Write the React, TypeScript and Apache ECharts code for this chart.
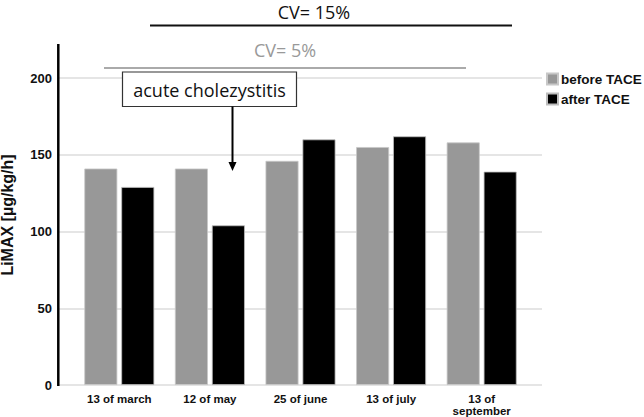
import React, { useEffect, useRef } from "react";
import * as echarts from "echarts";

const categories = ["13 of march", "12 of may", "25 of june", "13 of july", "13 of\nseptember"];
const beforeTACE = [141, 141, 146, 155, 158];
const afterTACE = [129, 104, 160, 162, 139];
const seriesNames = ["before TACE", "after TACE"];
const yTicks = { min: 0, max: 200, interval: 50 };
const yAxisTitle = "LiMAX [µg/kg/h]";
const annotations = { cv15: "CV= 15%", cv5: "CV= 5%", event: "acute cholezystitis" };

const BOLD = "'Liberation Sans', Arial, sans-serif";
const LIGHT = "'Open Sans', 'Noto Sans', sans-serif";

export default function App() {
  const ref = useRef<HTMLDivElement>(null);
  useEffect(() => {
    document.body.style.margin = "0";
    if (!ref.current) return;
    const chart = echarts.init(ref.current, undefined, { renderer: "svg" });
    const barBase = {
      type: "bar" as const,
      xAxisIndex: 1,
      yAxisIndex: 1,
      barWidth: 33,
      barGap: "12%",
    };
    chart.setOption({
      animation: false,
      backgroundColor: "#ffffff",
      grid: [
        { left: 58, right: 102, top: 78, bottom: 32 },
        { left: 74, right: 117, top: 78, bottom: 32 },
      ],
      xAxis: [
        { type: "value", gridIndex: 0, show: false, min: 0, max: 1 },
        {
          type: "category",
          gridIndex: 1,
          data: categories,
          boundaryGap: true,
          axisLine: { show: false },
          axisTick: { show: false },
          axisLabel: {
            color: "#111",
            fontFamily: BOLD,
            fontWeight: "bold",
            fontSize: 11.5,
            lineHeight: 12,
            margin: 8,
            interval: 0,
          },
        },
      ],
      yAxis: [
        {
          type: "value",
          gridIndex: 0,
          min: yTicks.min,
          max: yTicks.max,
          interval: yTicks.interval,
          axisLine: { show: false },
          axisTick: { show: false },
          axisLabel: {
            color: "#111",
            fontFamily: BOLD,
            fontWeight: "bold",
            fontSize: 13,
            margin: 6,
          },
          splitLine: { show: true, lineStyle: { color: "#dcdcdc", width: 1.5 } },
        },
        {
          type: "value",
          gridIndex: 1,
          min: yTicks.min,
          max: yTicks.max,
          show: false,
          splitLine: { show: false },
        },
      ],
      legend: {
        orient: "vertical",
        left: 546,
        top: 72,
        icon: "rect",
        itemWidth: 11,
        itemHeight: 11,
        itemGap: 6,
        padding: 0,
        data: seriesNames,
        textStyle: {
          color: "#111",
          fontFamily: BOLD,
          fontWeight: "bold",
          fontSize: 13.5,
          padding: [0, 0, 0, -2],
        },
      },
      series: [
        {
          ...barBase,
          name: seriesNames[0],
          data: beforeTACE,
          itemStyle: { color: "#989898", borderColor: "#c8c8c8", borderWidth: 0.8 },
        },
        {
          ...barBase,
          name: seriesNames[1],
          data: afterTACE,
          itemStyle: { color: "#000000", borderColor: "#bdbdbd", borderWidth: 0.8 },
        },
      ],
      graphic: [
        {
          type: "line",
          z: 100,
          shape: { x1: 58.3, y1: 44, x2: 58.3, y2: 386 },
          style: { stroke: "#000", lineWidth: 2.5 },
        },
        {
          type: "text",
          z: 100,
          x: 7,
          y: 215,
          rotation: Math.PI / 2,
          style: {
            text: yAxisTitle,
            fontFamily: BOLD,
            fontWeight: "bold",
            fontSize: 16,
            fill: "#111",
            align: "center",
            verticalAlign: "middle",
          },
        },
        {
          type: "text",
          z: 100,
          x: 314,
          y: 12,
          style: {
            text: annotations.cv15,
            fontFamily: LIGHT,
            fontSize: 18,
            fill: "#111",
            align: "center",
            verticalAlign: "middle",
          },
        },
        {
          type: "line",
          z: 100,
          shape: { x1: 150, y1: 25.5, x2: 512, y2: 25.5 },
          style: { stroke: "#111", lineWidth: 2 },
        },
        {
          type: "text",
          z: 100,
          x: 285,
          y: 50,
          style: {
            text: annotations.cv5,
            fontFamily: LIGHT,
            fontSize: 18,
            fill: "#999",
            align: "center",
            verticalAlign: "middle",
          },
        },
        {
          type: "line",
          z: 100,
          shape: { x1: 104, y1: 68, x2: 466, y2: 68 },
          style: { stroke: "#aaa", lineWidth: 2 },
        },
        {
          type: "rect",
          z: 100,
          shape: { x: 122.5, y: 72, width: 174, height: 34.5 },
          style: { fill: "#fff", stroke: "#333", lineWidth: 1.2 },
        },
        {
          type: "text",
          z: 101,
          x: 209.5,
          y: 89.5,
          style: {
            text: annotations.event,
            fontFamily: LIGHT,
            fontSize: 18,
            fill: "#111",
            align: "center",
            verticalAlign: "middle",
          },
        },
        {
          type: "line",
          z: 100,
          shape: { x1: 232.5, y1: 106.5, x2: 232.5, y2: 164 },
          style: { stroke: "#000", lineWidth: 2 },
        },
        {
          type: "polygon",
          z: 100,
          shape: { points: [[228.5, 162], [236.5, 162], [232.5, 171]] },
          style: { fill: "#000" },
        },
      ],
    });
    return () => chart.dispose();
  }, []);
  return <div ref={ref} style={{ width: 644, height: 417 }} />;
}
